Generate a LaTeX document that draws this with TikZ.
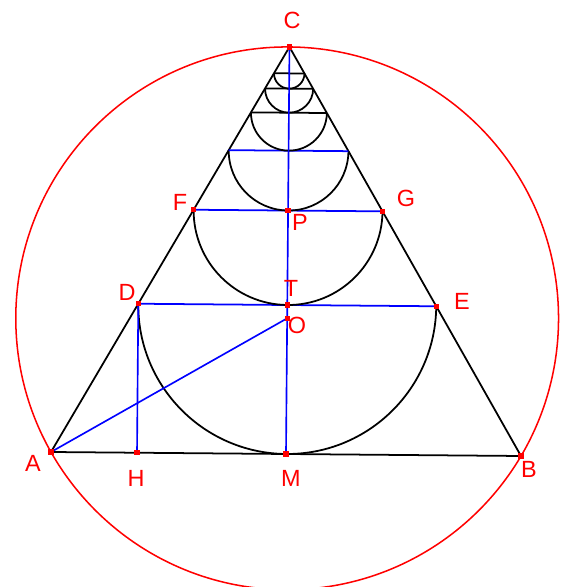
\documentclass[tikz,border=0pt]{standalone}
\usepackage{fontspec}
\setmainfont{Liberation Sans}
\usetikzlibrary{calc}

\begin{document}
\begin{tikzpicture}[x=0.03cm, y=0.03cm,
    edge/.style={line width=1.5pt, black},
    aux/.style={line width=1.4pt, blue},
    circ/.style={line width=1.3pt, red},
    dot/.style={fill=red, inner sep=0pt, minimum size=4.5pt},
    lbl/.style={red, inner sep=0pt, font=\fontsize{20}{24}\selectfont},
  ]
    \useasboundingbox (0,0) rectangle (565,587);

    % triangle corners and centre
    \coordinate (A) at (51,135);
    \coordinate (B) at (521,131);
    \coordinate (M) at ($(A)!0.5!(B)$);
    \coordinate (C) at ($(M)!{sqrt(3)}!90:(B)$);
    \coordinate (O) at ($(M)!1/3!(C)$);

    % circumcircle
    \draw[circ] (O) circle[radius=271.37];

    \draw[edge] (A) -- (B) -- (C) -- cycle;

    % chain of semicircles, each chord a factor k closer to C
    \pgfmathsetmacro\kk{sqrt(3)/(sqrt(3)+1)}
    \foreach \n/\col in {1/blue,2/blue,3/blue,4/black,5/black,6/black}{
      \pgfmathsetmacro\t{\kk^\n}
      \coordinate (L\n) at ($(C)!\t!(A)$);
      \coordinate (R\n) at ($(C)!\t!(B)$);
      \draw[edge] (L\n) arc[start angle=179.51, end angle=359.51, radius=\t*235.01];
      \draw[edge, \col] (L\n) -- (R\n);
    }

    \coordinate (D) at (L1);
    \coordinate (E) at (R1);
    \coordinate (F) at (L2);
    \coordinate (G) at (R2);
    \coordinate (T) at ($(D)!0.5!(E)$);
    \coordinate (P) at ($(F)!0.5!(G)$);
    \coordinate (H) at ($(A)!(D)!(B)$);

    % blue helpers
    \draw[aux] (C) -- (M);
    \draw[aux] (D) -- (H);
    \draw[aux] (A) -- (O);

    \foreach \p in {A,B,C,D,E,F,G,P,T,O,H,M}
      \node[dot] (d\p) at (\p) {};

    % labels
    \node[lbl] (lC) at (292,567) {C};
    \node[lbl] (lF) at (180,385) {F};
    \node[lbl] (lG) at (406,389) {G};
    \node[lbl] (lP) at (300,365) {P};
    \node[lbl] (lD) at (127,295) {D};
    \node[lbl] (lE) at (462,286) {E};
    \node[lbl] (lT) at (291,299) {T};
    \node[lbl] (lO) at (297,262) {O};
    \node[lbl] (lA) at (33,124) {A};
    \node[lbl] (lH) at (136,109) {H};
    \node[lbl] (lM) at (291,109) {M};
    \node[lbl] (lB) at (529,118) {B};
  \end{tikzpicture}
\end{document}
